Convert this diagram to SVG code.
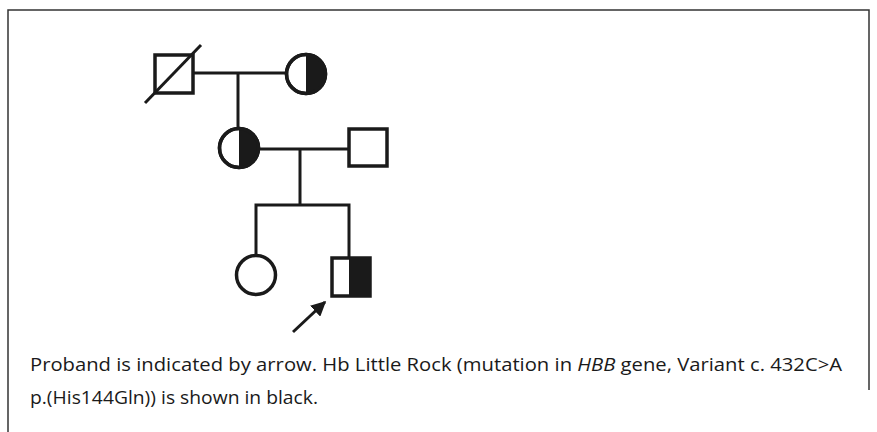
<svg xmlns="http://www.w3.org/2000/svg" width="877" height="432" viewBox="0 0 877 432">
<defs>
<style>
.ln{stroke:#1a1a1a;stroke-width:3;fill:none}
.sym{stroke:#1a1a1a;stroke-width:3.5;fill:#fff}
.blk{fill:#1a1a1a}
.frame{stroke:#333;stroke-width:1.5;fill:none}
.txt{font-family:"Open Sans","Liberation Sans",sans-serif;font-size:19px;fill:#1a1a1a}
</style>
<marker id="ah" viewBox="0 0 10 10" refX="9" refY="5" markerWidth="5" markerHeight="5" orient="auto" markerUnits="strokeWidth">
<path d="M0,0 L10,5 L0,10 z" fill="#1a1a1a"/>
</marker>
</defs>
<path class="frame" d="M8,432 V10 H869 V390"/>
<g id="connectors">
<line class="ln" x1="193" y1="73" x2="286" y2="73"/>
<line class="ln" x1="238" y1="73" x2="238" y2="128"/>
<line class="ln" x1="259" y1="149" x2="348" y2="149"/>
<line class="ln" x1="300" y1="149" x2="300" y2="205"/>
<path class="ln" d="M256,255 V205 H349 V257"/>
<line class="ln" x1="293" y1="332" x2="325" y2="302" stroke-width="2" marker-end="url(#ah)"/>
</g>
<g id="gen1-father">
<rect class="sym" x="155" y="55" width="38" height="38"/>
<line class="ln" x1="145" y1="103" x2="201" y2="45"/>
</g>
<g id="gen1-mother">
<circle class="sym" cx="306" cy="74" r="19.5"/>
<path class="blk" d="M306,54.5 A19.5,19.5 0 0 1 306,93.5 Z"/>
<circle cx="306" cy="74" r="19.5" fill="none" stroke="#1a1a1a" stroke-width="3.5"/>
</g>
<g id="gen2-mother">
<circle class="sym" cx="239" cy="148" r="19.5"/>
<path class="blk" d="M239,128.5 A19.5,19.5 0 0 1 239,167.5 Z"/>
<circle cx="239" cy="148" r="19.5" fill="none" stroke="#1a1a1a" stroke-width="3.5"/>
</g>
<g id="gen2-father">
<rect class="sym" x="349" y="129" width="38" height="37"/>
</g>
<g id="gen3-sister">
<circle class="sym" cx="256" cy="275" r="19.5"/>
</g>
<g id="gen3-proband">
<rect class="sym" x="332" y="258" width="38" height="38"/>
<rect class="blk" x="349" y="258" width="21" height="38"/>
</g>
<text class="txt" x="30" y="371" textLength="812" lengthAdjust="spacingAndGlyphs">Proband is indicated by arrow. Hb Little Rock (mutation in <tspan font-style="italic">HBB</tspan> gene, Variant c. 432C&gt;A</text>
<text class="txt" x="30" y="404" textLength="288" lengthAdjust="spacingAndGlyphs">p.(His144Gln)) is shown in black.</text>
</svg>
